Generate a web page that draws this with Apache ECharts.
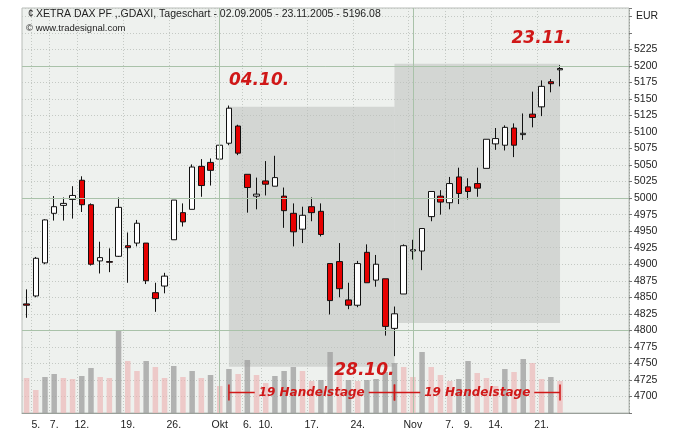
<!DOCTYPE html>
<html><head><meta charset="utf-8">
<script src="https://cdn.jsdelivr.net/npm/echarts@6/dist/echarts.min.js"></script>
<style>html,body{margin:0;padding:0;background:#fff}#c{width:687px;height:443px}</style>
</head><body><div id="c"></div>
<script>
const dates = ['02.09','05.09','06.09','07.09','08.09','09.09','12.09','13.09','14.09','15.09','16.09','19.09','20.09','21.09','22.09','23.09','26.09','27.09','28.09','29.09','30.09',
'03.10','04.10','05.10','06.10','07.10','10.10','11.10','12.10','13.10','14.10','17.10','18.10','19.10','20.10','21.10','24.10','25.10','26.10','27.10','28.10','31.10',
'01.11','02.11','03.11','04.11','07.11','08.11','09.11','10.11','11.11','14.11','15.11','16.11','17.11','18.11','21.11','22.11','23.11'];
// open, close, low, high
const opens  = [4840,4852,4902,4977,4989,4998,5027,4990,4905,4904,4912,4928,4932,4932,4857,4867,4937,4978,4983,5048,5054,5059,5083,5109,5036,5003,5026,5018,5003,4977,4953,4987,4980,4901,4904,4846,4838,4918,4876,4878,4803,4855,4920,4920,4972,5003,4993,5032,5017,5022,5045,5082,5080,5106,5096,5127,5138,5176,5194];
const closes = [4838,4909,4967,4987,4992,5004,4990,4900,4910,4903,4986,4925,4962,4875,4848,4882,4997,4964,5047,5019,5042,5080,5136,5068,5016,5006,5021,5031,4981,4949,4974,4978,4945,4845,4863,4838,4901,4872,4900,4806,4825,4928,4922,4954,5010,4994,5022,5007,5010,5015,5089,5090,5107,5080,5098,5122,5169,5173,5196];
const lows   = [4819,4850,4900,4966,4966,4969,4979,4898,4886,4888,4911,4872,4927,4870,4828,4856,4937,4957,4983,5002,5019,5048,5080,5065,4978,4983,5004,5018,4955,4927,4932,4965,4942,4824,4850,4832,4835,4872,4866,4792,4761,4855,4907,4891,4965,4975,4983,4991,4998,5002,5045,5073,5072,5062,5088,5107,5124,5160,5169];
const highs  = [4862,4911,4968,5003,5001,5018,5033,4992,4934,4924,5001,4948,4967,4932,4872,4887,4997,4992,5051,5059,5060,5083,5140,5111,5036,5031,5056,5064,5016,4992,4987,5001,4992,4901,4932,4872,4905,4930,4914,4878,4836,4930,4937,4954,5010,5012,5032,5046,5030,5046,5089,5106,5110,5113,5128,5161,5178,5180,5201];
const volumes = [35,23,36,39,35,34,37,45,36,35,82,52,42,52,46,35,47,36,42,35,38,27,44,39,53,38,30,37,42,46,42,32,33,61,40,33,32,33,34,41,50,46,36,61,46,38,32,34,52,40,35,27,44,41,54,50,34,36,32];
const volumeUp = [0,0,1,1,0,0,1,1,0,0,1,0,0,1,0,0,1,0,1,0,1,0,1,0,1,0,0,1,1,1,0,0,1,1,0,1,0,1,1,1,1,0,0,1,0,0,0,1,1,0,0,0,1,0,1,0,0,1,0];
const padCount = 7;
const tickDates = ['05.09','07.09','12.09','19.09','26.09','03.10','06.10','10.10','17.10','24.10','01.11','07.11','09.11','14.11','21.11'];
const tickLabels = ['5.','7.','12.','19.','26.','Okt','6.','10.','17.','24.','Nov','7.','9.','14.','21.'];
const monthStarts = ['03.10','01.11'];
const solidLevels = [4800,5000,5200];
const yTicks = {min:4675, max:5287.5, step:25, labelMin:4700, labelMax:5225};
const zone1 = ['04.10','28.10', 4745, 5138];
const zone2 = ['28.10','23.11', 4811, 5203];
const dayCountY = 4706;
const annotations = [['04.10.','04.10',5178,'left'],['28.10.','28.10',4739,'right'],['23.11.','21.11',5242,'center']];
const handelsText = '19 Handelstage';
const titleText = 'XETRA DAX PF ,.GDAXI, Tageschart - 02.09.2005 - 23.11.2005 - 5196.08';

const cats = dates.concat(Array.from({length:padCount},(_,i)=>'p'+i));
const candleData = dates.map((d,i)=>[opens[i],closes[i],lows[i],highs[i]]);
const tickIdx = tickDates.map(d=>cats.indexOf(d));
const chart = echarts.init(document.getElementById('c'));
const option = {
  animation:false,
  backgroundColor:'#fff',
  grid:{left:22,right:58,top:8,bottom:30,show:true,backgroundColor:'#eef1ee',borderColor:'#b8bdb8',borderWidth:1},
  xAxis:{type:'category',data:cats,boundaryGap:true,
    axisLine:{lineStyle:{color:'#9aa09a'}},
    axisTick:{alignWithLabel:true,interval:(i)=>tickIdx.includes(i),length:4,lineStyle:{color:'#555'}},
    axisLabel:{interval:(i)=>tickIdx.includes(i),formatter:(v)=>{const k=tickDates.indexOf(v);return k>=0?tickLabels[k]:'';},color:'#222',fontSize:10.5,fontFamily:'Liberation Sans',margin:7},
    splitLine:{show:true,interval:(i)=>tickIdx.includes(i),lineStyle:{color:'#c4c9c4',type:[1,2]}}},
  yAxis:[{type:'value',position:'right',min:yTicks.min,max:yTicks.max,interval:yTicks.step,
    axisLine:{show:true,lineStyle:{color:'#9aa09a',type:[1,2]}},axisTick:{show:true,length:3,lineStyle:{color:'#777'}},
    axisLabel:{color:'#222',fontSize:10.5,fontFamily:'Liberation Sans',margin:5,showMinLabel:true,showMaxLabel:true,
      formatter:(v)=>(v>=yTicks.labelMin&&v<=yTicks.labelMax)?String(v):''},
    splitLine:{show:true,lineStyle:{color:'#c4c9c4',type:[1,2]}}},
    {type:'value',min:0,max:405,show:false,splitLine:{show:false}}],
  series:[
    {type:'line',data:[],z:1,silent:true,
     markArea:{silent:true,itemStyle:{color:'rgba(190,192,190,0.55)'},data:[
       [{coord:[zone1[0],zone1[3]]},{coord:[zone1[1],zone1[2]]}],
       [{coord:[zone2[0],zone2[3]]},{coord:[zone2[1],zone2[2]]}]]},
     markLine:{silent:true,symbol:'none',label:{show:false},data:
       monthStarts.map(m=>({xAxis:m,lineStyle:{color:'#a9c2a9',type:'solid',width:1}}))
       .concat(solidLevels.map(v=>({yAxis:v,lineStyle:{color:'#a9c2a9',type:'solid',width:1}})))}},
    {type:'bar',yAxisIndex:1,z:2,barWidth:5.5,data:volumes.map((v,i)=>({value:v,itemStyle:{color:volumeUp[i]?'rgba(160,160,160,0.78)':'rgba(236,180,180,0.65)'}}))},
    {type:'candlestick',z:3,data:candleData,barWidth:6,
     itemStyle:{color:'#ffffff',color0:'#e60000',borderColor:'#111',borderColor0:'#111',borderWidth:1}}
  ]
};
chart.setOption(option);

const P=(c,v)=>chart.convertToPixel({xAxisIndex:0,yAxisIndex:0},[c,v]);
const g=[];
const fontA={fontFamily:'DejaVu Sans',fontStyle:'italic',fontWeight:'bold',fill:'#d01818'};
annotations.forEach(([t,d,v,al])=>{const p=P(d,v);g.push({type:'text',x:p[0],y:p[1],z:100,style:Object.assign({text:t,fontSize:17,align:al,verticalAlign:'middle'},fontA)});});
[[zone1[0],zone1[1]],[zone2[0],zone2[1]]].forEach(([a,b])=>{
  const pa=P(a,dayCountY),pb=P(b,dayCountY);const mid=(pa[0]+pb[0])/2;const half=57;
  g.push({type:'line',z:100,shape:{x1:pa[0],y1:pa[1],x2:mid-half,y2:pa[1]},style:{stroke:'#d01818',lineWidth:1.5}});
  g.push({type:'line',z:100,shape:{x1:mid+half,y1:pa[1],x2:pb[0],y2:pa[1]},style:{stroke:'#d01818',lineWidth:1.5}});
  [pa[0],pb[0]].forEach(x=>g.push({type:'line',z:100,shape:{x1:x,y1:pa[1]-8,x2:x,y2:pa[1]+8},style:{stroke:'#d01818',lineWidth:1.5}}));
  g.push({type:'text',z:100,x:mid,y:pa[1],style:Object.assign({text:handelsText,fontSize:12,align:'center',verticalAlign:'middle'},fontA)});
});
g.push({type:'text',left:36,top:9,z:100,style:{text:titleText,fontSize:10.5,fontFamily:'Liberation Sans',fill:'#222'}});
g.push({type:'text',left:28,top:9,z:100,style:{text:'¢',fontSize:10,fontFamily:'Liberation Sans',fill:'#333'}});
g.push({type:'text',left:26,top:23,z:100,style:{text:'© www.tradesignal.com',fontSize:9.5,fontFamily:'Liberation Sans',fill:'#222'}});
g.push({type:'text',left:636,top:11,z:100,style:{text:'EUR',fontSize:10.5,fontFamily:'Liberation Sans',fill:'#222'}});
chart.setOption({graphic:g});
</script></body></html>
